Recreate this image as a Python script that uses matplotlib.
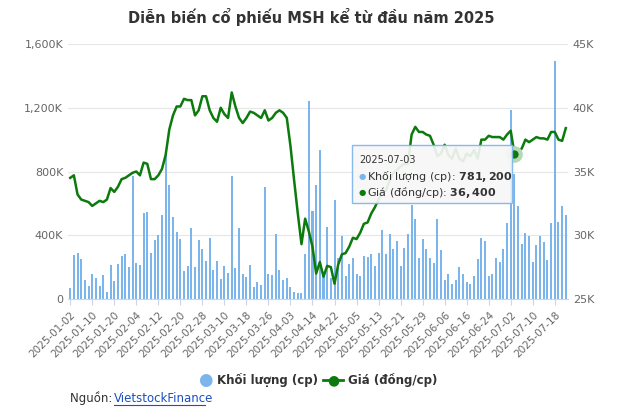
import numpy as np
import pandas as pd
import matplotlib.pyplot as plt
from matplotlib.patches import Rectangle
from matplotlib.ticker import FuncFormatter

# volume (thousand shares)
volume = [67, 276, 290, 250, 119, 81, 157, 134, 81, 150, 46, 213, 115, 219, 270, 282, 200, 771,
          228, 213, 539, 545, 290, 370, 401, 527, 909, 715, 516, 420, 376, 176, 207, 445, 200,
          370, 313, 238, 382, 184, 238, 127, 207, 165, 771, 194, 445, 157, 140, 213, 77, 107,
          90, 702, 157, 150, 407, 182, 121, 134, 77, 46, 38, 38, 282, 1241, 552, 715, 934,
          150, 454, 130, 621, 255, 395, 144, 219, 257, 157, 144, 270, 263, 282, 207, 289, 433,
          282, 407, 313, 364, 207, 320, 407, 590, 502, 257, 376, 313, 257, 226, 502, 307, 119,
          157, 94, 119, 200, 157, 107, 94, 144, 250, 382, 364, 144, 157, 257, 232, 315, 478,
          1185, 781.2, 583, 345, 416, 395, 232, 338, 395, 357, 245, 478, 1492, 485, 583, 529]

# closing price (thousand VND)
price = [34.5, 34.7, 33.2, 32.8, 32.7, 32.6, 32.3, 32.5, 32.7, 32.6, 32.8, 33.7, 33.4, 33.8,
         34.4, 34.5, 34.7, 34.9, 35.0, 34.7, 35.7, 35.6, 34.4, 34.4, 34.7, 35.2, 36.3, 38.3,
         39.4, 40.1, 40.1, 40.7, 40.6, 40.6, 39.4, 39.8, 40.9, 40.9, 39.8, 39.2, 38.9, 40.0,
         39.5, 39.2, 41.2, 40.1, 39.2, 38.8, 39.2, 39.7, 39.6, 39.4, 39.2, 39.8, 39.0, 39.2,
         39.6, 39.8, 39.6, 39.2, 37.0, 34.3, 31.7, 29.3, 31.3, 30.3, 29.1, 27.0, 27.9,
         26.75, 27.6, 27.5, 26.2, 27.7, 28.5, 28.6, 29.1, 29.8, 29.7, 30.2, 30.9, 31.0, 31.7,
         32.2, 32.8, 33.4, 33.5, 34.3, 34.9, 35.1, 35.4, 35.6, 35.6, 37.9, 38.5, 38.1, 38.1,
         37.9, 37.8, 37.1, 36.2, 36.4, 37.1, 36.3, 36.0, 36.8, 36.0, 35.8, 36.4, 36.2, 36.7,
         36.0, 37.5, 37.5, 37.8, 37.7, 37.7, 37.7, 37.5, 37.9, 38.2, 36.4, 36.6, 36.8, 37.5,
         37.3, 37.5, 37.7, 37.6, 37.6, 37.5, 38.1, 38.1, 37.5, 37.4, 38.4]

holidays = pd.to_datetime(["2025-01-27", "2025-01-28", "2025-01-29", "2025-01-30", "2025-01-31",
                           "2025-04-07", "2025-04-30", "2025-05-01", "2025-05-02"])
days = pd.bdate_range("2025-01-02", "2025-08-30")
days = [d for d in days if d not in holidays][:len(volume)]
labels = [d.strftime("%Y-%m-%d") for d in days]

BAR = "#7cb5ec"
LINE = "#0c7a0c"
GRAY = "#666666"
TXT = "#333333"

fig = plt.figure(figsize=(6.23, 4.13), dpi=100)
ax = fig.add_axes([68 / 623, 114 / 413, 500 / 623, 255 / 413])
x = np.arange(len(volume))
ax.bar(x, volume, width=0.55, color=BAR, zorder=2)
ax.set_ylim(0, 1600)
ax.set_xlim(-0.6, len(volume) - 0.4)
ax.set_yticks([0, 400, 800, 1200, 1600])
ax.yaxis.set_major_formatter(FuncFormatter(lambda v, p: "0" if v == 0 else f"{int(v):,}K"))
ax.grid(axis="y", color="#e6e6e6", linewidth=0.8, zorder=0)
ax.set_xticks(x[::6])
ax.set_xticklabels(labels[::6], rotation=45, ha="right", rotation_mode="anchor")
ax.tick_params(axis="x", colors=GRAY, labelsize=7.5, length=4, color="#ccd6eb")
ax.tick_params(axis="y", colors=GRAY, labelsize=8, length=0)
for s in ["top", "right", "left"]:
    ax.spines[s].set_visible(False)
ax.spines["bottom"].set_color("#ccd6eb")

ax2 = ax.twinx()
ax2.plot(x, price, color=LINE, linewidth=1.8, zorder=3)
ax2.set_ylim(25, 45)
ax2.set_yticks([25, 30, 35, 40, 45])
ax2.yaxis.set_major_formatter(FuncFormatter(lambda v, p: f"{int(v)}K"))
ax2.tick_params(axis="y", colors=GRAY, labelsize=8, length=0)
for s in ax2.spines.values():
    s.set_visible(False)

# highlighted point + tooltip
i = labels.index("2025-07-03")
ax2.plot(x[i], price[i], "o", color=LINE, markersize=9, markeredgecolor="#b5d8b5",
         markeredgewidth=3, zorder=5)
fig.patches.append(Rectangle((352 / 623, 1 - 203 / 413), 160 / 623, 58 / 413,
                             transform=fig.transFigure, fc="#f7f7f7", ec="#7cb5ec",
                             lw=1, alpha=0.92, zorder=10))
tx = 359 / 623
fig.text(tx, 1 - 160 / 413, labels[i], fontsize=7, color=TXT, va="center", zorder=11)
fig.text(tx, 1 - 176 / 413, "\u25CF", fontsize=6, color=BAR, va="center", zorder=11)
fig.text(tx + 8 / 623, 1 - 176 / 413, f"Khối lượng (cp): $\\bf{{{volume[i] * 1000:,.0f}}}$",
         fontsize=8, color=TXT, va="center", zorder=11)
fig.text(tx, 1 - 192 / 413, "\u25CF", fontsize=6, color=LINE, va="center", zorder=11)
fig.text(tx + 8 / 623, 1 - 192 / 413, f"Giá (đồng/cp): $\\bf{{{price[i] * 1000:,.0f}}}$",
         fontsize=8, color=TXT, va="center", zorder=11)

fig.text(0.5, 1 - 17 / 413, "Diễn biến cổ phiếu MSH kể từ đầu năm 2025", ha="center",
         va="center", fontsize=10.5, fontweight="bold", color=TXT)

# legend
ly = 1 - 380 / 413
fig.text(205 / 623, ly, "\u25CF", color=BAR, fontsize=12, va="center", ha="center")
fig.text(217 / 623, ly, "Khối lượng (cp)", color=TXT, fontsize=8.5, fontweight="bold",
         va="center")
fig.lines.append(plt.Line2D([323 / 623, 343 / 623], [ly, ly], color=LINE, linewidth=2,
                            transform=fig.transFigure))
fig.text(333 / 623, ly, "\u25CF", color=LINE, fontsize=10, va="center", ha="center")
fig.text(348 / 623, ly, "Giá (đồng/cp)", color=TXT, fontsize=8.5, fontweight="bold",
         va="center")

fig.text(70 / 623, 1 - 398 / 413, "Nguồn: ", fontsize=8.5, color=TXT, va="center")
fig.text(114 / 623, 1 - 398 / 413, "VietstockFinance", fontsize=8.5, color="#1a4fbf",
         va="center")
fig.lines.append(plt.Line2D([114 / 623, 205 / 623], [1 - 405 / 413] * 2, color="#1a4fbf",
                            linewidth=0.8, transform=fig.transFigure))

fig.savefig("out.png", dpi=100)
